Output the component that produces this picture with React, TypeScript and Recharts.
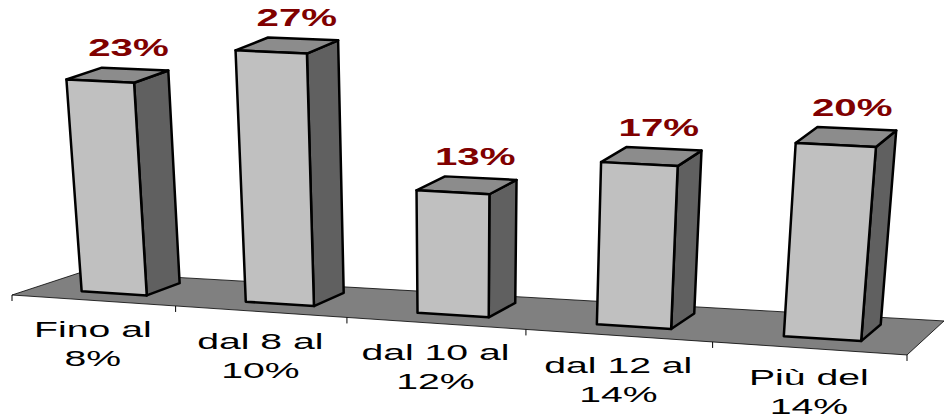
import { Bar, BarChart, Customized, LabelList, XAxis, YAxis } from "recharts";

const categories = ["Fino al\n8%", "dal 8 al\n10%", "dal 10 al\n12%", "dal 12 al\n14%", "Più del\n14%"];
const shares = [23, 27, 13, 17, 20];
const yMax = 30;

const data = categories.map((name, i) => ({ name, value: shares[i] }));

const W = 944;
const H = 418;
const MARGIN = { top: 20, right: 37, left: 12, bottom: 86 };
const PL = MARGIN.left;
const PR = W - MARGIN.right;

// perspective of the old excel 3d view
const P = {
  floorY: 295,
  slope: 0.067,
  warp: 1.2e-4,
  lean: 1.9e-4,
  leanCenter: 460,
  depthL: [70, -23],
  depthR: [37, -34],
  barFront: 0.3,
  barBack: 0.8,
};

function project(xf: number, h: number, z: number): [number, number] {
  const x0 = xf - P.warp * (xf - PL) * (PR - xf);
  const y0 = P.floorY + P.slope * (x0 - PL);
  const t = (x0 - PL) / (PR - PL);
  const dx = P.depthL[0] + (P.depthR[0] - P.depthL[0]) * t;
  const dy = P.depthL[1] + (P.depthR[1] - P.depthL[1]) * t;
  const x1 = x0 + z * dx;
  const y1 = y0 + z * dy;
  const hh = h * (1 + 0.06 * (t - 0.4));
  return [x1 + P.lean * (x1 - P.leanCenter) * hh, y1 - hh];
}

const pts = (list: [number, number][]) => list.map((p) => p.join(",")).join(" ");

function Box(props: any) {
  const { x, width, height } = props;
  const l = x + 1;
  const r = x + width + 1;
  const z0 = P.barFront;
  const z1 = P.barBack;
  const front = [project(l, 0, z0), project(r, 0, z0), project(r, height, z0), project(l, height, z0)];
  const side = [project(r, 0, z0), project(r, 0, z1), project(r, height, z1), project(r, height, z0)];
  const top = [project(l, height, z0), project(r, height, z0), project(r, height, z1), project(l, height, z1)];
  const st = { stroke: "#000", strokeWidth: 2.5, strokeLinejoin: "round" as const };
  return (
    <g>
      <polygon points={pts(side)} fill="#606060" {...st} />
      <polygon points={pts(top)} fill="#8c8c8c" {...st} />
      <polygon points={pts(front)} fill="#c0c0c0" {...st} />
    </g>
  );
}

function Floor() {
  const corners = [project(PL, 0, 0), project(PR, 0, 0), project(PR, 0, 1), project(PL, 0, 1)];
  return <polygon points={pts(corners)} fill="#808080" stroke="#000" strokeWidth={0.8} />;
}

function ValueLabel(props: any) {
  const { x, width, height, value } = props;
  const [cx, cy] = project(x + width / 2, height, 0.72);
  return (
    <text
      transform={`translate(${cx},${cy - 15}) scale(1.75,1)`}
      textAnchor="middle"
      fontFamily="'Liberation Sans', Arial, sans-serif"
      fontWeight="bold"
      fontSize={23}
      fill="#800000"
    >
      {value}%
    </text>
  );
}

function CategoryTick(props: any) {
  const { x, payload, index } = props;
  const half = payload.offset ?? 0;
  const [cx, cy] = project(x, 0, 0);
  const lines = String(payload.value).split("\n");
  const tickAt = (xf: number) => {
    const [tx, ty] = project(xf, 0, 0);
    return <line x1={tx} y1={ty} x2={tx} y2={ty + 6} stroke="#000" strokeWidth={1} />;
  };
  return (
    <g>
      {tickAt(x - half)}
      {index === categories.length - 1 && tickAt(x + half)}
      {lines.map((ln, i) => (
        <text
          key={i}
          transform={`translate(${cx},${cy + 37 + i * 29}) scale(1.78,1)`}
          textAnchor="middle"
          fontFamily="'Liberation Sans', Arial, sans-serif"
          fontSize={22}
          fill="#000"
        >
          {ln}
        </text>
      ))}
    </g>
  );
}

export default function App() {
  if (typeof document !== "undefined") document.body.style.margin = "0";
  return (
    <BarChart width={W} height={H} data={data} margin={MARGIN} barCategoryGap="30%">
      <Customized component={<Floor />} />
      <XAxis dataKey="name" interval={0} axisLine={false} tickLine={false} tick={<CategoryTick />} height={30} />
      <YAxis hide domain={[0, yMax]} />
      <Bar dataKey="value" shape={<Box />} isAnimationActive={false}>
        <LabelList dataKey="value" content={<ValueLabel />} />
      </Bar>
    </BarChart>
  );
}
